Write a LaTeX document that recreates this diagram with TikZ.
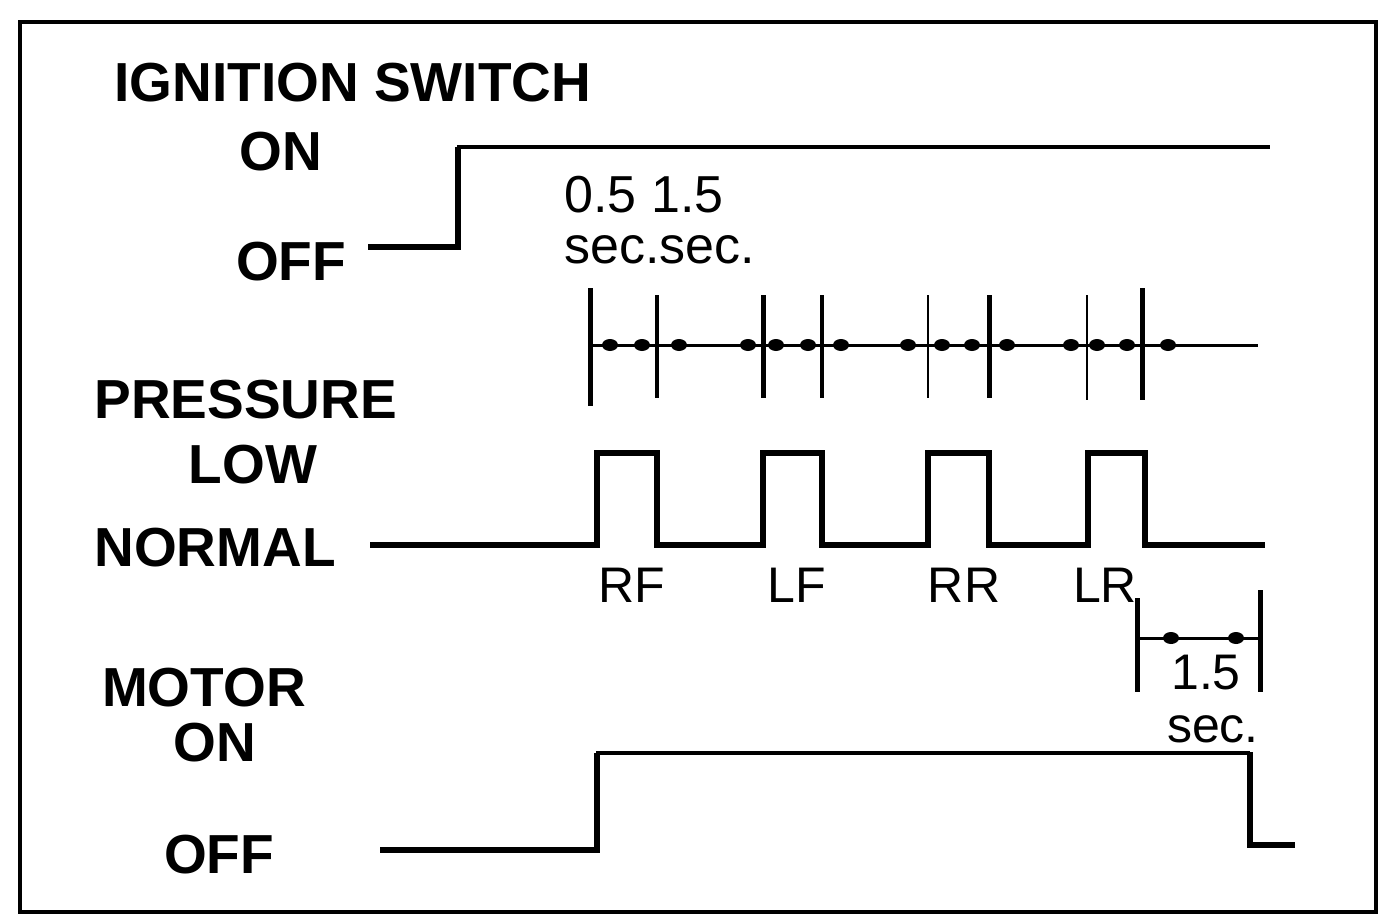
\documentclass[tikz,border=0pt]{standalone}
\usepackage{fontspec}
\setmainfont{Liberation Sans}
\begin{document}
\begin{tikzpicture}[x=0.5pt,y=-0.5pt,
  lbl/.style={inner sep=0pt,font=\fontsize{27.5}{30}\selectfont\bfseries},
  sml/.style={inner sep=0pt,font=\fontsize{25}{26}\selectfont},
  num/.style={inner sep=0pt,font=\fontsize{26}{27}\selectfont},
  sig/.style={line width=3pt,line join=miter},
  thin sig/.style={line width=2pt},
  tickthick/.style={line width=2.5pt},
  tickmed/.style={line width=1.6pt},
  tickthin/.style={line width=1pt},
  dotmark/.style={fill=black,draw=none}]
\useasboundingbox (0,0) rectangle (1380,917);
\draw[line width=2pt] (20,22) rectangle (1376,912);

% labels
\node[lbl,anchor=west] (ign) at (114,83) {IGNITION SWITCH};
\node[lbl] (ion) at (281,152) {ON};
\node[lbl] (ioff) at (291,262) {OFF};
\node[num,anchor=west] (t1) at (564,195) {0.5 1.5};
\node[num,anchor=west] (t2) at (564,250) {sec.sec.};
\node[lbl,anchor=west] (pre) at (94,400) {PRESSURE};
\node[lbl] (low) at (253,465) {LOW};
\node[lbl] (nor) at (215,548) {NORMAL};
\node[lbl] (mot) at (204,688) {MOTOR};
\node[lbl] (mon) at (215,743) {ON};
\node[lbl] (moff) at (219,855) {OFF};
\node[sml] (rf) at (632,585) {RF};
\node[sml] (lf) at (797,585) {LF};
\node[sml] (rr) at (964,585) {RR};
\node[sml] (lr) at (1105,585) {LR};
\node[sml] (t3) at (1206,673) {1.5};
\node[sml] (t4) at (1213,729) {sec.};

% ignition signal
\draw[sig] (368,247) -- (458,247) -- (458,147);
\draw[thin sig] (457,147) -- (1270,147);

% timing axis
\draw[line width=1.5pt] (590,345) -- (1258,345);
\draw[tickthick] (590,288) -- (590,406);
\draw[tickmed] (657,295) -- (657,398);
\draw[tickthick] (763,295) -- (763,398);
\draw[tickmed] (822,295) -- (822,398);
\draw[tickthin] (928,295) -- (928,398);
\draw[tickthick] (989,295) -- (989,398);
\draw[tickthin] (1087,295) -- (1087,400);
\draw[tickthick] (1142,288) -- (1142,400);
\foreach \x in {610,642,679,748,776,808,841,908,942,972,1007,1071,1097,1127,1168}
  \fill[dotmark] (\x,345) ellipse (8 and 6);

% pressure signal
\draw[sig] (370,545) -- (597,545) -- (597,453) -- (657,453) -- (657,545)
  -- (763,545) -- (763,453) -- (822,453) -- (822,545)
  -- (928,545) -- (928,453) -- (989,453) -- (989,545)
  -- (1088,545) -- (1088,453) -- (1145,453) -- (1145,545) -- (1265,545);

% 1.5 sec dimension
\draw[tickthick] (1137,598) -- (1137,692);
\draw[tickthick] (1260,590) -- (1260,692);
\draw[line width=1.5pt] (1137,638) -- (1260,638);
\fill[dotmark] (1171,638) ellipse (8 and 6);
\fill[dotmark] (1236,638) ellipse (8 and 6);

% motor signal
\draw[sig] (380,850) -- (597,850) -- (597,753);
\draw[thin sig] (596,753) -- (1250,753);
\draw[sig] (1250,752) -- (1250,845) -- (1295,845);
\end{tikzpicture}
\end{document}
